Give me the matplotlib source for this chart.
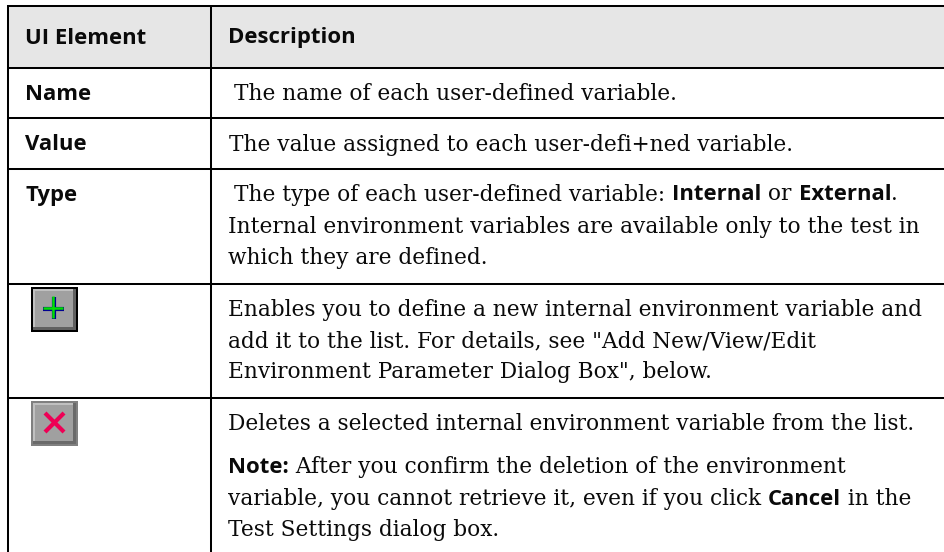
import matplotlib
matplotlib.use("Agg")
import matplotlib.pyplot as plt
from matplotlib.patches import Rectangle

W, H = 945, 552
SERIF = "DejaVu Serif"
SANS = "Open Sans"

col_x = [8, 211]
row_y = [6, 67.5, 117.5, 168.5, 284, 397.5]

label_lines = [
    (25, 43.5, "UI Element"), (228, 43.5, "Description"),
    (25, 100, "Name"), (25, 150, "Value"), (25, 200.5, "Type"),
]
body_lines = [
    (234, 100.5, [("The name of each user-defined variable.", False)]),
    (229, 150.5, [("The value assigned to each user-defi+ned variable.", False)]),
    (234, 200.5, [("The type of each user-defined variable: ", False), ("Internal", True), (" or ", False), ("External", True), (".", False)]),
    (228, 232.5, [("Internal environment variables are available only to the test in", False)]),
    (228, 264, [("which they are defined.", False)]),
    (228, 316, [("Enables you to define a new internal environment variable and", False)]),
    (228, 347, [("add it to the list. For details, see \"Add New/View/Edit", False)]),
    (228, 378, [("Environment Parameter Dialog Box\", below.", False)]),
    (228, 430.5, [("Deletes a selected internal environment variable from the list.", False)]),
    (228, 473, [("Note:", True), (" After you confirm the deletion of the environment", False)]),
    (228, 505, [("variable, you cannot retrieve it, even if you click ", False), ("Cancel", True), (" in the", False)]),
    (228, 536, [("Test Settings dialog box.", False)]),
]

fig = plt.figure(figsize=(W / 100, H / 100), dpi=100)
ax = fig.add_axes([0, 0, 1, 1])
ax.set_xlim(0, W)
ax.set_ylim(H, 0)
ax.axis("off")

ax.add_patch(Rectangle((col_x[0], row_y[0]), W - col_x[0], row_y[1] - row_y[0], color="#e6e6e6", lw=0))
for x in col_x:
    ax.plot([x, x], [row_y[0] - 1, H], color="black", lw=1.45, solid_capstyle="butt")
for y in row_y:
    ax.plot([col_x[0] - 1, W], [y, y], color="black", lw=1.45, solid_capstyle="butt")

fig.canvas.draw()
renderer = fig.canvas.get_renderer()


def draw_run(x, y, runs):
    for txt, bold in runs:
        kw = dict(family=SANS if bold else SERIF,
                  fontsize=15.9 if bold else 15.62,
                  fontweight="bold" if bold else "normal")
        ax.text(x, y, txt, va="baseline", ha="left", color="#0a0a0a", **kw)
        probe = ax.text(0, 0, txt.replace(" ", "\u00a0"), **kw)
        x += probe.get_window_extent(renderer).width
        probe.remove()


for x, y, s in label_lines:
    draw_run(x, y, [(s, True)])
for x, y, runs in body_lines:
    draw_run(x, y, runs)


def button(x, y, w, h, outer, shade):
    ax.add_patch(Rectangle((x, y), w, h, color=outer, lw=0))
    ax.add_patch(Rectangle((x + 2, y + 2), w - 4, h - 4, color=shade, lw=0))
    ax.add_patch(Rectangle((x + 2, y + 2), w - 7, h - 7, color="#c0c0c0", lw=0))
    ax.add_patch(Rectangle((x + 4, y + 4), w - 9, h - 9, color="#a0a0a0", lw=0))


button(31, 287, 47, 45, "#000000", "#606060")
ax.plot([43, 64], [309, 309], color="#000090", lw=3.0, solid_capstyle="butt")
ax.plot([54, 54], [297, 319], color="#000090", lw=3.0, solid_capstyle="butt")
ax.plot([43, 63], [308, 308], color="#00e000", lw=1.8, solid_capstyle="butt")
ax.plot([53, 53], [296, 318], color="#00e000", lw=1.8, solid_capstyle="butt")

button(31, 401, 47, 45, "#808080", "#6a6a6a")
ax.plot([45, 64], [413, 432], color="#ee0055", lw=3.0, solid_capstyle="butt")
ax.plot([64, 45], [413, 432], color="#ee0055", lw=3.0, solid_capstyle="butt")

fig.savefig("out.png", dpi=100)
